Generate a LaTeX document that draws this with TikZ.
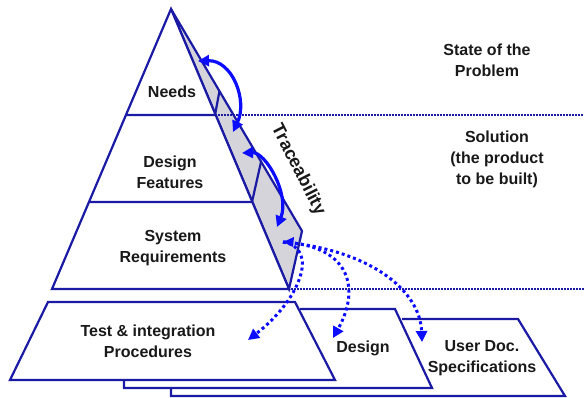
\documentclass[tikz,border=0pt]{standalone}
\usepackage{fontspec}
\setmainfont{Liberation Sans}
\usetikzlibrary{arrows.meta}
\definecolor{pyrblue}{RGB}{26,26,164}
\definecolor{arrblue}{RGB}{12,12,255}
\definecolor{sidegray}{RGB}{212,212,218}

\begin{document}
\begin{tikzpicture}[x=1pt, y=-1pt, >={Triangle[length=11pt,width=11pt]},
                    edge/.style = {draw=pyrblue, line width=2.2pt, line join=miter},
                    layer/.style = {edge, fill=white},
                    txt/.style = {align=center, inner sep=0pt, text=black!90,
                                  font=\bfseries\fontsize{16}{21}\selectfont},
                    trace/.style = {draw=arrblue, line width=3.2pt, <->},
                    link/.style = {draw=arrblue, line width=3pt, dash pattern=on 3pt off 3pt},
                    sep/.style = {draw=pyrblue, line width=1.5pt, dash pattern=on 1.5pt off 1.5pt}]
    \useasboundingbox (0,0) rectangle (584,398);

    % pyramid corners
    \coordinate (apex) at (171,9);
    \coordinate (bl) at (52,289);
    \coordinate (br) at (289,289);
    \coordinate (back) at (302,231);
    \coordinate (n1) at (126,115);
    \coordinate (n2) at (215,115);
    \coordinate (n3) at (219.5,91);
    \coordinate (f1) at (89,202);
    \coordinate (f2) at (252,202);
    \coordinate (f3) at (261,162);

    % lower panels, back to front
    \draw[layer] (171,388) -- (171,396) -- (565,396) -- (518,319) -- (402,319);
    \draw[layer] (124,380) -- (124,388) -- (432,388) -- (395,309) -- (300,309);
    \draw[layer] (48,302) -- (295,302) -- (335,380) -- (10,380) -- cycle;

    % pyramid
    \draw[layer, fill=sidegray] (apex) -- (back) -- (br) -- cycle;
    \draw[layer] (apex) -- (br) -- (bl) -- cycle;
    \draw[edge] (n1) -- (n2) -- (n3);
    \draw[edge] (f1) -- (f2) -- (f3);

    % level separators
    \coordinate (s1) at (584,115);
    \coordinate (s2) at (584,289);
    \draw[sep] (n2) -- (s1);
    \draw[sep] ([xshift=2pt]br) -- (s2);

    % traceability arrows
    \coordinate (t1) at (198,61);
    \coordinate (t2) at (233,132);
    \coordinate (t3) at (242,153);
    \coordinate (t4) at (277,227);
    \coordinate (t5) at (283,242);
    \draw[trace] (t1) .. controls (232,60) and (248,100) .. (t2);
    \draw[trace] (t3) .. controls (266,152) and (290,195) .. (t4);

    % links to the derived documents
    \coordinate (d1) at (248,340);
    \coordinate (d2) at (333,338);
    \coordinate (d3) at (422,342);
    \draw[link, ->] (t5) .. controls (320,248) and (300,300) .. (d1);
    \draw[link, ->] (t5) .. controls (352,246) and (360,290) .. (d2);
    \draw[link, ->] (t5) .. controls (370,250) and (420,290) .. (d3);
    \fill[arrblue] (t5) -- ++(11,-5) -- ++(-1,10) -- cycle;

    % texts
    \node[txt] (needs) at (172,92) {Needs};
    \node[txt] (feat) at (170,172) {Design\\Features};
    \node[txt] (sysreq) at (173,248) {System\\Requirements};
    \node[txt] (test) at (148,341) {Test \& integration\\Procedures};
    \node[txt] (design) at (363,348) {Design};
    \node[txt] (userdoc) at (482,358) {User Doc.\\Specifications};
    \node[txt] (state) at (487,60) {State of the\\Problem};
    \node[txt] (solution) at (497,159) {Solution\\(the product\\to be built)};
    \node[txt, font=\bfseries\fontsize{18}{21}\selectfont, rotate=-63] (trace) at (298,170) {Traceability};
\end{tikzpicture}
\end{document}
